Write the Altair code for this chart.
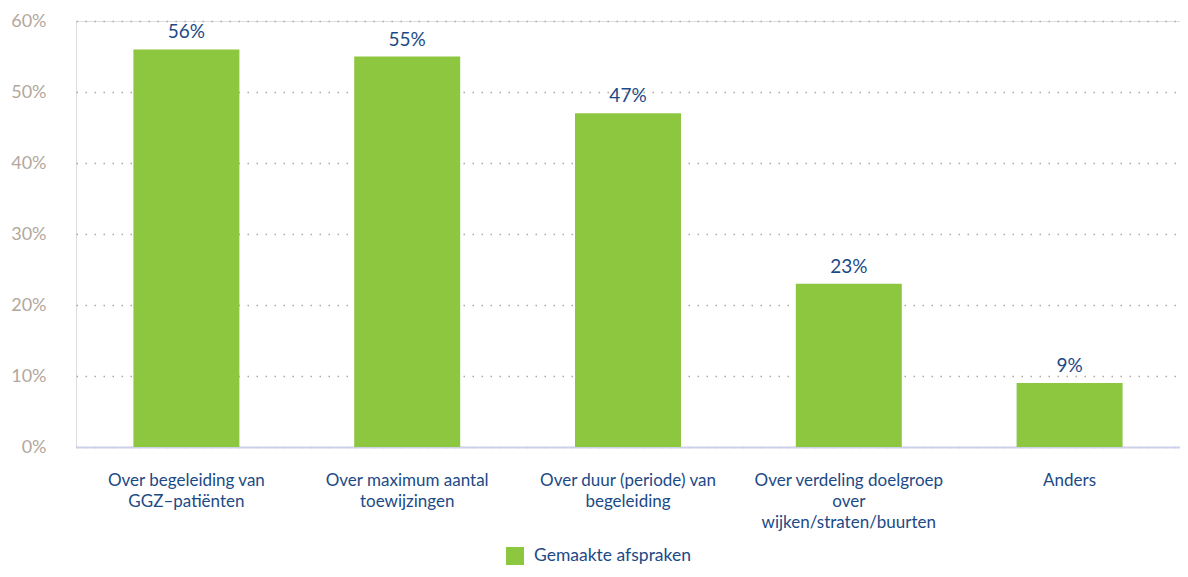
import altair as alt
import pandas as pd

categories = [
    "Over begeleiding van|GGZ\u2013patiënten",
    "Over maximum aantal|toewijzingen",
    "Over duur (periode) van|begeleiding",
    "Over verdeling doelgroep|over|wijken/straten/buurten",
    "Anders",
]
values = [56, 55, 47, 23, 9]
series = "Gemaakte afspraken"
y_ticks = [0, 10, 20, 30, 40, 50, 60]

df = pd.DataFrame({"cat": categories, "val": values, "series": [series] * len(values)})
df["lab"] = df["val"].astype(str) + "%"

FONT = "Lato"
BLUE = "#1c4a86"
GREEN = "#8dc63f"
TAN = "#b3a79c"

x_enc = alt.X(
    "cat:N",
    sort=categories,
    title=None,
    scale=alt.Scale(paddingInner=0.52, paddingOuter=0.26),
    axis=alt.Axis(
        labelExpr="split(datum.label, '|')",
        labelAngle=0,
        labelColor=BLUE,
        labelFont=FONT,
        labelFontSize=17,
        labelLineHeight=21,
        labelPadding=25,
        labelBaseline="top",
        ticks=False,
        domainColor="#cdd0ea",
        domainWidth=2,
        grid=False,
        labelLimit=400,
    ),
)

y_enc = alt.Y(
    "val:Q",
    title=None,
    scale=alt.Scale(domain=[0, 60], nice=False),
    axis=alt.Axis(
        values=y_ticks,
        labelExpr="datum.value + '%'",
        labelColor=TAN,
        labelFont=FONT,
        labelFontSize=18,
        labelPadding=30,
        ticks=False,
        domain=False,
        grid=True,
        gridColor=TAN,
        gridDash=[1.5, 7.5],
        gridWidth=1.6,
    ),
)

bars = alt.Chart(df).mark_bar(color=GREEN).encode(
    x=x_enc,
    y=y_enc,
    color=alt.Color(
        "series:N",
        scale=alt.Scale(domain=[series], range=[GREEN]),
        legend=alt.Legend(
            title=None,
            orient="none",
            legendX=430,
            legendY=526,
            symbolType="square",
            symbolSize=324,
            symbolStrokeWidth=0,
            labelColor=BLUE,
            labelFont=FONT,
            labelFontSize=17.5,
            labelOffset=10,
            padding=0,
        ),
    ),
)

text = alt.Chart(df).mark_text(
    baseline="bottom", dy=-7, fontSize=19, font=FONT, color=BLUE
).encode(x=alt.X("cat:N", sort=categories), y="val:Q", text="lab:N")

chart = (
    alt.layer(bars, text)
    .properties(
        width=1104,
        height=426,
        autosize=alt.AutoSizeParams(type="none"),
        padding={"left": 68, "top": 13, "right": 0, "bottom": 122},
    )
    .configure_view(stroke=None)
    .configure(background="white")
)

chart.save("out.html", embed_options={"renderer": "svg", "actions": False})
